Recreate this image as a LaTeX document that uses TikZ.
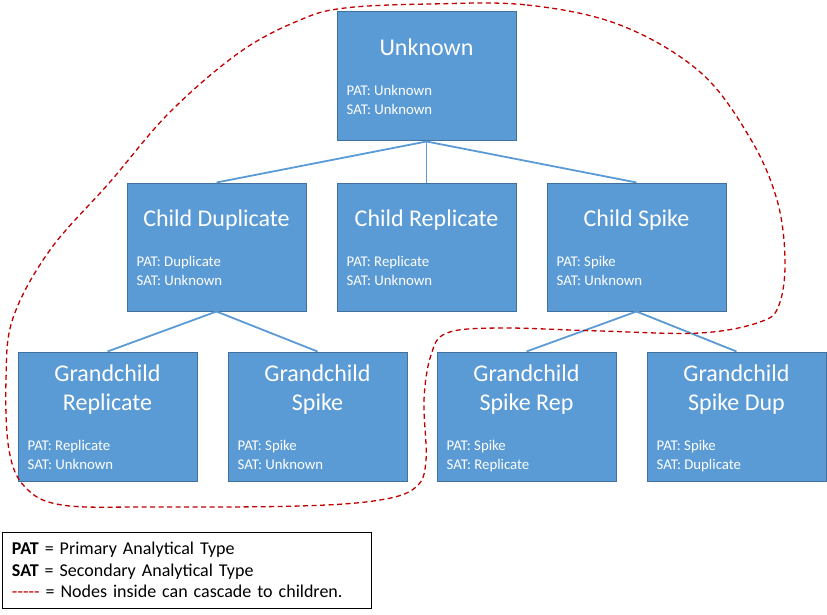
\documentclass[tikz,border=0pt]{standalone}
\usepackage{fontspec}
\setmainfont{Carlito}
\usetikzlibrary{calc}
\definecolor{boxfill}{HTML}{5B9BD5}
\definecolor{boxedge}{HTML}{41719C}
\definecolor{linkblue}{HTML}{5B9BD5}
\definecolor{dashred}{HTML}{C00000}
\tikzset{
  nodebox/.style={draw=boxedge, line width=1pt, fill=boxfill, minimum width=179pt, inner sep=0pt},
  tallbox/.style={nodebox, minimum height=129pt},
  midbox/.style={nodebox, minimum height=128pt},
  titletext/.style={text=white, font=\fontsize{24}{29}\selectfont, anchor=base, inner sep=0pt},
  infotext/.style={text=white, font=\fontsize{14.8}{18}\selectfont, anchor=base west, inner sep=0pt},
  link/.style={draw=linkblue, line width=1.8pt},
  cascade/.style={draw=dashred, line width=1.3pt, dash pattern=on 5pt off 3.5pt},
  legendbox/.style={draw=black, line width=1pt, fill=white, minimum width=369pt, minimum height=76pt,
    text width=349pt, align=left, inner sep=0pt, font=\fontsize{18}{21.5}\selectfont}
}
\begin{document}
\begin{tikzpicture}[x=1pt,y=-1pt]
\useasboundingbox (0,0) rectangle (827,615);

% boxes
\node[tallbox] (u) at (426.5,76.5) {};
\node[midbox] (cd) at (216.5,247) {};
\node[midbox] (cr) at (426.5,247) {};
\node[midbox] (cs) at (636.5,247) {};
\node[tallbox] (gr) at (107.5,416.5) {};
\node[tallbox] (gs) at (317.5,416.5) {};
\node[tallbox] (gsr) at (526.5,416.5) {};
\node[tallbox] (gsd) at (736.5,416.5) {};

% connectors
\draw[link] (u.south) -- (cd.north);
\draw[link] (u.south) -- (cr.north);
\draw[link] (u.south) -- (cs.north);
\draw[link] (cd.south) -- (gr.north);
\draw[link] (cd.south) -- (gs.north);
\draw[link] (cs.south) -- (gsr.north);
\draw[link] (cs.south) -- (gsd.north);

% texts: top
\node[titletext] (ut) at ($(u.north)+(0,44)$) {Unknown};
\node[infotext] (up) at ($(u.north west)+(10,84)$) {PAT: Unknown};
\node[infotext] (us) at ($(u.north west)+(10,103)$) {SAT: Unknown};
% children
\node[titletext] (cdt) at ($(cd.north)+(0,44)$) {Child Duplicate};
\node[infotext] (cdp) at ($(cd.north west)+(10,84)$) {PAT: Duplicate};
\node[infotext] (cds) at ($(cd.north west)+(10,103)$) {SAT: Unknown};
\node[titletext] (crt) at ($(cr.north)+(0,44)$) {Child Replicate};
\node[infotext] (crp) at ($(cr.north west)+(10,84)$) {PAT: Replicate};
\node[infotext] (crs) at ($(cr.north west)+(10,103)$) {SAT: Unknown};
\node[titletext] (cst) at ($(cs.north)+(0,44)$) {Child Spike};
\node[infotext] (csp) at ($(cs.north west)+(10,84)$) {PAT: Spike};
\node[infotext] (css) at ($(cs.north west)+(10,103)$) {SAT: Unknown};
% grandchildren
\node[titletext] (grt1) at ($(gr.north)+(0,30)$) {Grandchild};
\node[titletext] (grt2) at ($(gr.north)+(0,59)$) {Replicate};
\node[infotext] (grp) at ($(gr.north west)+(10,99)$) {PAT: Replicate};
\node[infotext] (grs) at ($(gr.north west)+(10,118)$) {SAT: Unknown};
\node[titletext] (gst1) at ($(gs.north)+(0,30)$) {Grandchild};
\node[titletext] (gst2) at ($(gs.north)+(0,59)$) {Spike};
\node[infotext] (gsp) at ($(gs.north west)+(10,99)$) {PAT: Spike};
\node[infotext] (gss) at ($(gs.north west)+(10,118)$) {SAT: Unknown};
\node[titletext] (gsrt1) at ($(gsr.north)+(0,30)$) {Grandchild};
\node[titletext] (gsrt2) at ($(gsr.north)+(0,59)$) {Spike Rep};
\node[infotext] (gsrp) at ($(gsr.north west)+(10,99)$) {PAT: Spike};
\node[infotext] (gsrs) at ($(gsr.north west)+(10,118)$) {SAT: Replicate};
\node[titletext] (gsdt1) at ($(gsd.north)+(0,30)$) {Grandchild};
\node[titletext] (gsdt2) at ($(gsd.north)+(0,59)$) {Spike Dup};
\node[infotext] (gsdp) at ($(gsd.north west)+(10,99)$) {PAT: Spike};
\node[infotext] (gsds) at ($(gsd.north west)+(10,118)$) {SAT: Duplicate};

% cascade region
\draw[cascade] plot[smooth cycle, tension=0.6] coordinates {
  (430,4) (527,5) (620,25) (700,72) (750,138) (777,200) (785,260) (779,305) (760,322)
  (700,333) (600,331) (500,328) (447,333) (431,355) (424,400) (426,460) (416,487)
  (380,500) (300,506) (150,507) (62,505) (25,487) (9,450) (6,380) (13,318)
  (50,250) (110,182) (170,112) (240,52) (300,20) (345,8)};

% legend
\node[legendbox] (legend) at (186.5,570) {\textbf{PAT} = Primary Analytical Type\\
\textbf{SAT} = Secondary Analytical Type\\
{\color{dashred}-{}-{}-{}-{}-} = Nodes inside can cascade to children.};
\end{tikzpicture}
\end{document}
